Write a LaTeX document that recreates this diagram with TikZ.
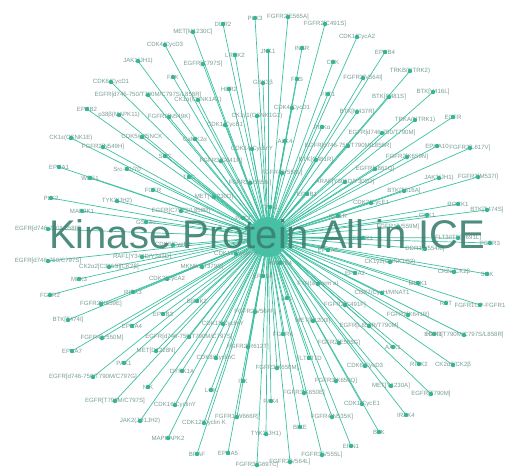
\documentclass[tikz,border=0pt]{standalone}
\usepackage{fontspec}
\setmainfont{Liberation Sans}
\definecolor{edgeteal}{RGB}{62,192,162}
\definecolor{dotteal}{RGB}{52,182,150}
\definecolor{hubteal}{RGB}{72,192,166}
\definecolor{labelgray}{RGB}{118,156,148}
\definecolor{titleteal}{RGB}{58,128,112}
\pgfdeclarelayer{edges}
\pgfsetlayers{edges,main}

\begin{document}
\begin{tikzpicture}[x=1pt,y=-1pt,
    kinase/.style={circle,fill=dotteal,inner sep=0pt,minimum size=4.4pt},
    kinlabel/.style={text=labelgray,font=\fontsize{6.1}{7}\selectfont,inner sep=0pt},
    spoke/.style={draw=edgeteal,line width=0.7pt}]

    \useasboundingbox (0,0) rectangle (507,471);

    % the hub
    \node[circle,fill=hubteal,minimum size=40pt,inner sep=0pt] (hub) at (268,237) {};

    % the kinases and their spokes
    \foreach \lab/\x/\y [count=\i] in {
      {MET[M1230C]}/193/32, {CDK4/CycD3}/165/45, {JAK1(JH1)}/138/61, {FAK}/173/77,
      {CDK6/CycD1}/111/82, {EGFR[d746-750/T790M/C797S/L858R]}/148/95,
      {CK1α(CSNK1A1)}/198/100, {EPHB2}/87/109, {p38β(MAPK11)}/119/115,
      {FGFR2[N549K]}/169/117, {CK1ε(CSNK1E)}/71/138, {CDK5/p35NCK}/142/137,
      {FGFR2[N549H]}/103/147, {SRC}/165/156, {DDR2}/223/24, {PLK3}/255/18,
      {FGFR2[E565A]}/288/17, {FGFR2[C491S]}/325/24, {CDK1/CycA2}/357/37,
      {LRRK2}/235/55, {JNK1}/268/51, {INSR}/302/48, {EGFR[C797S]}/203/64,
      {CSK}/333/62, {GSK3β}/263/83, {FES}/297/79, {HER2}/229/89,
      {FGFR2[V564I]}/363/78, {FLT1}/328/94, {CDK4/CycD1}/292/108,
      {BTK[M437R]}/357/112, {CK1γ1(CSNK1G1)}/257/116, {CDK1/CycB1}/225/125,
      {PI3Kα}/322/127, {CaMK2α}/195/139, {ALK4}/285/141,
      {EGFR[d746-750/T790M/L858R]}/348/146, {CDK14/CyclinY}/252/149,
      {FGFR3[G641R]}/221/161, {BTK[C481R]}/316/160, {FGFR4[V550L]}/282/173,
      {FGFR3[V555M]}/250/183, {TEC}/189/177, {MET[Y1230D]}/214/197,
      {EPHB1}/307/194, {ARAF[Y301D/Y302D]}/345/182, {TNK1}/270/207,
      {EGFR[C797S/L858R]}/181/211, {PAK2}/243/218, {GSK3α}/146/222,
      {Src-N1/70}/127/169, {EPHA1}/59/167, {WEE1}/90/178, {FGFR}/153/190,
      {PLK2}/51/198, {TYK2(JH2)}/117/201, {MAP2K1}/82/211,
      {EGFR[d746-750/L858R]}/48/229, {EGFR[d746-750/C797S]}/48/261,
      {RAF1[Y340D/Y341D]}/142/257, {CK2α2[C336S][CK2β]}/109/267, {MLK3}/79/279,
      {CDK2/CycA2}/167/279, {FGFR2}/50/295, {RIPK3}/133/292,
      {FGFR2[K659E]}/101/304, {BTK[T474I]}/68/320, {EPHB3}/163/314,
      {EPHA4}/132/326, {FGFR4[V550M]}/102/338, {EPHA7}/72/351,
      {EGFR[d746-750/T790M/C797S]}/189/337, {MET[D1228N]}/156/351,
      {PAK1}/124/363, {DYRK1A}/182/371, {EGFR[d746-750/T790M/C797G]}/93/377,
      {NIK}/148/387, {EGFR[T790M/C797S]}/115/401, {CDK16/CyclinY}/175/405,
      {JAK2(JH1JH2)}/140/421, {MAPKAPK2}/168/438, {BRSK2}/197/301,
      {FGFR2[V564F]}/255/312, {CDK18/CyclinY}/223/324, {FGFR2[R612T]}/248/347,
      {CDK8/CyclinC}/216/358, {FGFR3[K650M]}/277/368, {ITK}/243/381,
      {LOK}/211/390, {PAK4}/271/401, {CDK12/Cyclin K}/204/423,
      {FGFR1[W666R]}/237/417, {TYK2(JH1)}/266/434, {BRAF}/197/454,
      {EPHA5}/228/453, {FGFR3[G697C]}/257/465, {FGFR2[V564L]}/290/462,
      {FGFR3[V555L]}/322/455, {BIKE}/300/427, {FGFR4[N535K]}/332/417,
      {FGFR3[K650E]}/304/393, {FGFR3[K650Q]}/336/381, {FLT3/ITD}/309/358,
      {FGFR2[E565G]}/339/343, {FGFR4}/283/334, {MET[F1200I]}/313/321,
      {FGFR2[C491F]}/345/305, {EGFR[L858R/T790M]}/369/326, {RET}/446/303,
      {FGFR1OP-FGFR1}/480/305, {FGFR2[K641R]}/408/315, {HPK1}/434/334,
      {EGFR[T790M/C797S/L858R]}/464/335, {AAK1}/393/347, {RIPK2}/419/364,
      {CK2α2/CK2β}/453/365, {CDK6/CycD3}/365/366, {MET[Y1230A]}/391/386,
      {EGFR[T790M]}/431/394, {CDK1/CycE1}/362/404, {IRAK4}/406/415,
      {BLK}/379/432, {ERN1}/351/446, {FGFR2[K659N]}/407/157,
      {EGFR[L861Q]}/375/169, {JAK3(JH1)}/439/178, {FGFR2[M537I]}/478/177,
      {BTK[T316A]}/404/191, {CDK2/CycE1}/371/203, {ROCK1}/458/204,
      {BTK[T474S]}/487/210, {CHK1}/427/215, {FGFR1[V559M]}/398/227,
      {FGFR1}/363/238, {FLT3/ITD[F691L]}/458/238, {FGFR3}/490/243,
      {DDR1[V554M]}/425/249, {CK1γ2(CSNK1G2)}/390/262, {EPHA2}/355/273,
      {EPHA3}/328/250, {CK2α/CK2β}/454/272, {SGK}/487/274, {MINK1}/418/283,
      {CDK7/CycH/MNAT1}/382/293, {FYN(isoform a)}/318/284, {ABL}/287/298,
      {ERBB4}/263/276, {MAP4K4}/280/263, {MKNK1[T379D]}/202/267,
      {CDK13/Cyclin K}/236/254, {CDK3/CycE1}/173/245, {EPHB4}/385/52,
      {TRKB(NTRK2)}/410/71, {BTK[C481S]}/389/97, {BTK[V416L]}/433/92,
      {TRKA(NTRK1)}/415/120, {EGFR}/453/117, {EPHA10}/437/146,
      {FGFR2[L617V]}/470/148, {EGFR[d746-750/T790M]}/382/133, {IGF1R}/338/216}{
      \node[kinlabel] (t\i) at (\x,\y) {\lab};
      \node[kinase] (k\i) at (\x,\y) {};
      \begin{pgfonlayer}{edges}
        \draw[spoke] (hub.center) -- (k\i.center);
      \end{pgfonlayer}
    }

    % the title
    \node[text=titleteal,opacity=0.9,font=\fontsize{40}{40}\selectfont,
      anchor=base,inner sep=0pt] (title) at (267,248) {Kinase Protein All in ICE};
\end{tikzpicture}
\end{document}
